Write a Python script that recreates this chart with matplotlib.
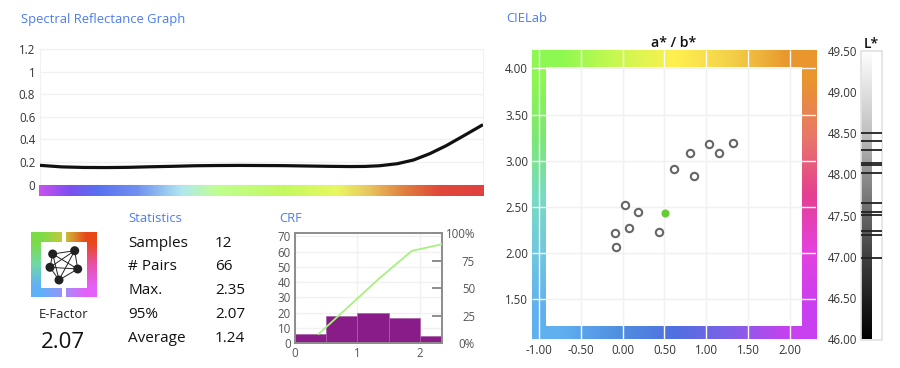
import itertools
import matplotlib
matplotlib.use('Agg')
import matplotlib.pyplot as plt
import numpy as np
from matplotlib.colors import LinearSegmentedColormap
from matplotlib.patches import Circle, Rectangle

plt.rcParams['font.family'] = ['Open Sans', 'DejaVu Sans']

# spectral curve
wavelengths = [400, 415, 430, 445, 460, 475, 490, 505, 520, 535, 550, 565, 580, 595, 610, 620, 630, 642, 653, 664, 675, 687, 700]
reflectance = [0.170, 0.156, 0.151, 0.150, 0.152, 0.157, 0.161, 0.166, 0.168, 0.169, 0.168, 0.167, 0.164, 0.161, 0.159, 0.160, 0.166, 0.184, 0.217, 0.273, 0.343, 0.432, 0.530]
reflect_ticks = [0, 0.2, 0.4, 0.6, 0.8, 1, 1.2]
reflect_labels = ['0', '0.2', '0.4', '0.6', '0.8', '1', '1.2']

# statistics
stat_names = ['Samples', '# Pairs', 'Max.', '95%', 'Average']
stat_values = ['12', '66', '2.35', '2.07', '1.24']
e_factor = '2.07'

# CRF histogram and cumulative line
bin_edges = [0, 0.5, 1, 1.5, 2, 2.35]
bin_counts = [5.9, 17.9, 19.6, 16.8, 4.8]
crf_x = [0.38, 1.36, 1.87, 2.35]
crf_pct = [8.5, 59.5, 84, 90]

# CIELab samples
a_values = [-0.096, -0.084, 0.028, 0.072, 0.188, 0.439, 0.615, 0.806, 0.854, 1.034, 1.150, 1.325]
b_values = [2.216, 2.068, 2.526, 2.274, 2.443, 2.231, 2.908, 3.081, 2.836, 3.186, 3.088, 3.196]
mean_a = [0.507]
mean_b = [2.432]
l_values = [48.505, 48.41, 48.295, 48.137, 48.12, 48.023, 47.66, 47.54, 47.505, 47.31, 47.27, 46.987]

W, H = 900, 368
fig = plt.figure(figsize=(9, 3.68), dpi=100)


def px_axes(x0, y0, x1, y1, **kw):
    return fig.add_axes([x0 / W, 1 - y1 / H, (x1 - x0) / W, (y1 - y0) / H], **kw)


def rgb(hexes):
    return np.array([[matplotlib.colors.to_rgb(c) for c in row] for row in hexes])


# fill the middle of a colour grid from its edges, so white does not bleed into the frame
def fill_middle(grid):
    n, m = grid.shape[:2]
    for i in range(1, n - 1):
        for j in range(1, m - 1):
            u, v = j / (m - 1), i / (n - 1)
            grid[i, j] = ((1 - u) * grid[i, 0] + u * grid[i, -1] + (1 - v) * grid[0, j] + v * grid[-1, j]) / 2
    return grid


TXT = '#333333'
BLUE = '#4d7cf0'
GRID = '#f1f1f1'

# pixel overlay for the loose text and the icon
pg = px_axes(0, 0, W, H)
pg.set_xlim(0, W)
pg.set_ylim(H, 0)
pg.axis('off')

pg.text(21, 19, 'Spectral Reflectance Graph', color=BLUE, fontsize=9.35, va='center')
pg.text(506, 19, 'CIELab', color=BLUE, fontsize=9.35, va='center')
pg.text(128.5, 219, 'Statistics', color=BLUE, fontsize=9.35, va='center')
pg.text(279.5, 219, 'CRF', color=BLUE, fontsize=9.35, va='center')

for name, val, y in zip(stat_names, stat_values, [243.5, 267, 291, 315, 338]):
    pg.text(128.5, y, name, color='#111111', fontsize=11, va='center')
    pg.text(215, y, val, color='#111111', fontsize=11, va='center')

pg.text(63.5, 315, 'E-Factor', color='#222222', fontsize=9.4, ha='center', va='center')
pg.text(63, 343, e_factor, color='#111111', fontsize=16, ha='center', va='center')

# icon
icon_cols = fill_middle(rgb([['#7cdc48', '#c8c83c', '#e84818'],
                             ['#70d8a8', '#ffffff', '#e850a8'],
                             ['#60b0f8', '#a090f8', '#e460f8']]))
pg.imshow(icon_cols, extent=(31, 96.3, 297, 232), interpolation='bilinear', aspect='auto', zorder=1)
pg.add_patch(Rectangle((41, 242), 45.7, 45.7, color='white', zorder=2, lw=0))
pg.add_patch(Rectangle((62.3, 231), 3.4, 12, color='white', zorder=2, lw=0))
pg.add_patch(Rectangle((62.3, 286), 3.4, 12, color='white', zorder=2, lw=0))
nodes = [(52.7, 254), (74.7, 250.7), (50, 267.3), (77.7, 269), (59, 280)]
for p, q in itertools.combinations(nodes, 2):
    pg.plot([p[0], q[0]], [p[1], q[1]], color='#222222', lw=0.7, zorder=3)
for p in nodes:
    pg.add_patch(Circle(p, 4.5, color='#222222', zorder=4, lw=0))
pg.set_xlim(0, W)
pg.set_ylim(H, 0)

# spectral reflectance
ax = px_axes(39.5, 49, 483, 184.5)
ax.plot(wavelengths, reflectance, color='#111111', lw=2.3, solid_capstyle='butt', solid_joinstyle='round', zorder=3)
ax.set_xlim(400, 700)
ax.set_ylim(0, 1.2)
ax.set_yticks(reflect_ticks, reflect_labels)
ax.set_xticks([])
ax.grid(axis='y', color=GRID, lw=1)
ax.set_axisbelow(True)
ax.tick_params(axis='y', length=0, pad=3, labelsize=8.3, labelcolor=TXT)
for s in ax.spines.values():
    s.set_color(GRID)
ax.patch.set_alpha(0)

spectrum = LinearSegmentedColormap.from_list('spectrum', [
    (0.0, '#c850f0'), (0.07, '#7a50f0'), (0.13, '#5a70f0'), (0.22, '#7090f0'),
    (0.32, '#b0e8f0'), (0.40, '#c0ff90'), (0.55, '#c4f860'), (0.67, '#e8f860'),
    (0.74, '#e8c860'), (0.82, '#e08040'), (0.90, '#e04838'), (1.0, '#e04040')])
bar = px_axes(39.3, 185, 484, 196)
bar.imshow(np.linspace(0, 1, 512).reshape(1, -1), cmap=spectrum, aspect='auto')
bar.axis('off')

# CRF
crf = px_axes(295, 233.3, 441.7, 343.3)
crf.bar(bin_edges[:-1], bin_counts, width=np.diff(bin_edges), align='edge', color='#8a1c8a',
        edgecolor='#a860a8', lw=0.5, zorder=2)
crf.set_xlim(0, 2.35)
crf.set_ylim(0, 72)
crf.set_xticks([0, 1, 2])
crf.set_yticks(range(0, 71, 10))
crf.grid(color=GRID, lw=1)
crf.set_axisbelow(True)
crf.tick_params(length=0, labelsize=8.3, labelcolor='#555555', pad=3)
for s in crf.spines.values():
    s.set_color('#8c8c8c')
    s.set_linewidth(1.4)

crf2 = crf.twinx()
crf2.plot(crf_x, crf_pct, color='#a8f080', lw=1.3, zorder=3)
crf2.set_ylim(0, 100)
crf2.set_yticks([0, 25, 50, 75, 100], ['0%', '25', '50', '75', '100%'])
crf2.tick_params(axis='y', direction='in', length=7, width=1.4, color='#8c8c8c', labelsize=8.3,
                 labelcolor='#555555', pad=24)
for t in crf2.get_yticklabels():
    t.set_ha('right')
for s in crf2.spines.values():
    s.set_visible(False)

# a* / b*
lab = px_axes(531.5, 50.3, 816, 339.5)
xlim = (-1.092, 2.314)
ylim = (1.067, 4.195)
frame_cols = fill_middle(rgb([['#8cf850', '#c8f850', '#fff050', '#f4d048', '#e8962d'],
                              ['#7ce870', '#ffffff', '#ffffff', '#ffffff', '#e87868'],
                              ['#78dcc0', '#ffffff', '#ffffff', '#ffffff', '#e54090'],
                              ['#70c8e0', '#ffffff', '#ffffff', '#ffffff', '#e440e0'],
                              ['#60b0f0', '#5090e0', '#4f70e0', '#8060e8', '#c840f0']]))
lab.imshow(frame_cols, extent=(*xlim, *ylim), interpolation='bilinear', aspect='auto', zorder=0)
inner_x = (-0.918, 2.152)
inner_y = (1.213, 4.018)
lab.add_patch(Rectangle((inner_x[0], inner_y[0]), inner_x[1] - inner_x[0], inner_y[1] - inner_y[0],
                        color='white', lw=0, zorder=1))
x_ticks = [-1, -0.5, 0, 0.5, 1, 1.5, 2]
y_ticks = [1.5, 2, 2.5, 3, 3.5, 4]
lab.set_xticks(x_ticks, [f'{v:.2f}' for v in x_ticks])
lab.set_yticks(y_ticks, [f'{v:.2f}' for v in y_ticks])
# gridlines run white across the frame, pale grey inside it
lab.vlines(x_ticks, *ylim, color='#fafafa', lw=1, zorder=2)
lab.hlines(y_ticks, *xlim, color='#fafafa', lw=1, zorder=2)
lab.vlines(x_ticks[1:], *inner_y, color=GRID, lw=1, zorder=3)
lab.hlines(y_ticks, *inner_x, color=GRID, lw=1, zorder=3)
lab.scatter(a_values, b_values, s=28, facecolor='white', edgecolor='#666666', lw=1.5, zorder=4)
lab.scatter(mean_a, mean_b, s=34, color='#66cc33', lw=0, zorder=4)
lab.set_xlim(*xlim)
lab.set_ylim(*ylim)
lab.tick_params(length=0, labelsize=8.3, labelcolor=TXT)
lab.tick_params(axis='y', pad=2.5)
lab.tick_params(axis='x', pad=3.5)
for s in lab.spines.values():
    s.set_visible(False)
lab.set_title('a* / b*', fontsize=10.2, fontweight='semibold', color='#111111', pad=2)

# L*
lax = px_axes(861, 50.7, 881.5, 339.5)
gray = LinearSegmentedColormap.from_list('lgray', [
    (0.0, '#000000'), (0.286, '#404040'), (0.571, '#909090'), (0.714, '#c0c0c0'),
    (0.857, '#e0e0e0'), (1.0, '#ffffff')])
lax.imshow(np.linspace(0, 1, 256).reshape(-1, 1), cmap=gray, origin='lower',
           extent=(0, 0.5, 46, 49.5), aspect='auto', zorder=0)
lax.hlines(l_values, 0, 1, color='#222222', lw=1.3, zorder=3)
lax.set_xlim(0, 1)
lax.set_ylim(46, 49.5)
lax.set_xticks([])
l_ticks = [46, 46.5, 47, 47.5, 48, 48.5, 49, 49.5]
lax.set_yticks(l_ticks, [f'{v:.2f}' for v in l_ticks])
lax.tick_params(length=0, labelsize=8.3, labelcolor=TXT, pad=2.5)
for s in lax.spines.values():
    s.set_color('#e2e2e2')
    s.set_linewidth(1.2)
lax.set_title('L*', fontsize=10, fontweight='semibold', color='#111111', pad=2)

fig.savefig('out.png', dpi=100)
